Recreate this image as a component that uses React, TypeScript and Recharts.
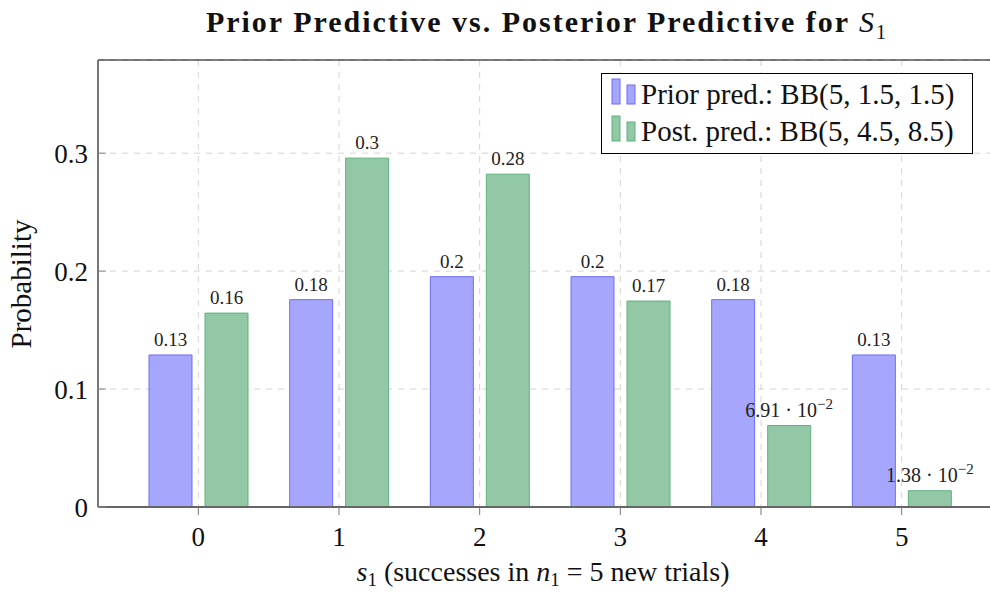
import React from "react";
import { Bar, BarChart, CartesianGrid, LabelList, XAxis, YAxis } from "recharts";

const FONT = '"Liberation Serif", "Times New Roman", serif';

// s1 = 0..5 successes
const successes = ["0", "1", "2", "3", "4", "5"];
const priorPred = [0.1289, 0.1758, 0.1953, 0.1953, 0.1758, 0.1289];
const postPred = [0.1644, 0.2958, 0.2822, 0.1746, 0.0691, 0.0138];
const yTicks = [0, 0.1, 0.2, 0.3];
const priorName = "Prior pred.: BB(5, 1.5, 1.5)";
const postName = "Post. pred.: BB(5, 4.5, 8.5)";

const BLUE_FILL = "#a6a6fd";
const BLUE_STROKE = "#6c6cf6";
const GREEN_FILL = "#92c8a6";
const GREEN_STROKE = "#5db27e";

const data = successes.map((s, i) => ({ s, prior: priorPred[i], post: postPred[i] }));

const BarValue = (props: any) => {
  const { x, y, width, value } = props;
  const cx = Number(x) + Number(width) / 2;
  const by = Number(y) - 9;
  if (value >= 0.1) {
    return (
      <text x={cx} y={by} textAnchor="middle" fontSize={19} fontFamily={FONT} fill="#222">
        {String(Math.round(value * 100) / 100)}
      </text>
    );
  }
  const exp = Math.floor(Math.log10(value));
  const mant = (value / Math.pow(10, exp)).toFixed(2);
  return (
    <text x={cx} y={by} textAnchor="middle" fontSize={20} fontFamily={FONT} fill="#222">
      {mant} · 10
      <tspan dy={-8} fontSize={15}>
        {"−" + Math.abs(exp)}
      </tspan>
    </text>
  );
};

const XLabel = () => (
  <text x={543} y={581} textAnchor="middle" fontSize={28} fontFamily={FONT} fill="#111">
    <tspan fontStyle="italic">s</tspan>
    <tspan fontSize={19} dy={5}>1</tspan>
    <tspan dy={-5}> (successes in </tspan>
    <tspan fontStyle="italic">n</tspan>
    <tspan fontSize={19} dy={5}>1</tspan>
    <tspan dy={-5}> = 5 new trials)</tspan>
  </text>
);

const YLabel = () => (
  <text
    x={31}
    y={284}
    transform="rotate(-90, 31, 284)"
    textAnchor="middle"
    fontSize={29}
    fontFamily={FONT}
    fill="#111"
  >
    Probability
  </text>
);

const LegendIcon = ({ fill, stroke }: { fill: string; stroke: string }) => (
  <svg width={26} height={27} style={{ position: "absolute", left: 9, top: 0 }}>
    <rect x={1} y={1} width={8} height={25} fill={fill} stroke={stroke} />
    <rect x={16} y={7} width={8} height={19} fill={fill} stroke={stroke} />
  </svg>
);

export default function App() {
  return (
    <div
      style={{
        position: "absolute",
        left: 0,
        top: 0,
        width: 990,
        height: 597,
        overflow: "hidden",
        background: "#fff",
        fontFamily: FONT,
        color: "#111",
      }}
    >
      <div
        style={{
          position: "absolute",
          left: 98,
          width: 898,
          top: 4,
          textAlign: "center",
          fontWeight: "bold",
          fontSize: 30,
          letterSpacing: 2,
          lineHeight: "36px",
          whiteSpace: "nowrap",
        }}
      >
        Prior Predictive vs. Posterior Predictive for{" "}
        <i style={{ fontWeight: "normal" }}>S</i>
        <sub style={{ fontWeight: "normal", fontSize: 20 }}>1</sub>
      </div>

      <div style={{ position: "absolute", left: 0, top: 0 }}>
        <BarChart
          width={1010}
          height={597}
          data={data}
          margin={{ top: 50, right: 6, bottom: 0, left: 0 }}
          barGap={13}
          barSize={43}
        >
          <CartesianGrid stroke="#d4d4d4" strokeDasharray="6 6" />
          <XAxis
            xAxisId="top"
            orientation="top"
            dataKey="s"
            height={10}
            padding={{ left: 30, right: 32 }}
            tick={false}
            tickSize={9}
            axisLine={{ stroke: "#000", strokeWidth: 1 }}
            tickLine={{ stroke: "#888" }}
          />
          <XAxis
            dataKey="s"
            height={90}
            padding={{ left: 30, right: 32 }}
            tickSize={8}
            tickMargin={12}
            tick={{ fontSize: 27, fill: "#111", fontFamily: FONT }}
            axisLine={{ stroke: "#666", strokeWidth: 2 }}
            tickLine={{ stroke: "#777" }}
            label={<XLabel />}
          />
          <YAxis
            width={98}
            domain={[0, 0.379]}
            ticks={yTicks}
            allowDataOverflow
            tickSize={-8}
            tickMargin={18}
            tick={{ fontSize: 27, fill: "#111", fontFamily: FONT }}
            axisLine={{ stroke: "#777", strokeWidth: 2 }}
            tickLine={{ stroke: "#888" }}
            label={<YLabel />}
          />
          <Bar dataKey="prior" name={priorName} fill={BLUE_FILL} stroke={BLUE_STROKE} isAnimationActive={false}>
            <LabelList dataKey="prior" content={<BarValue />} />
          </Bar>
          <Bar dataKey="post" name={postName} fill={GREEN_FILL} stroke={GREEN_STROKE} isAnimationActive={false}>
            <LabelList dataKey="post" content={<BarValue />} />
          </Bar>
        </BarChart>
      </div>

      <div
        style={{
          position: "absolute",
          left: 601,
          top: 73,
          width: 372,
          height: 81,
          border: "1px solid #000",
          background: "#fff",
          boxSizing: "border-box",
        }}
      >
        <div style={{ position: "absolute", left: 0, top: 4, width: 370, height: 34 }}>
          <LegendIcon fill={BLUE_FILL} stroke={BLUE_STROKE} />
          <div style={{ position: "absolute", left: 39, top: 0, lineHeight: "32px", fontSize: 29, whiteSpace: "nowrap" }}>
            {priorName}
          </div>
        </div>
        <div style={{ position: "absolute", left: 0, top: 41, width: 370, height: 34 }}>
          <LegendIcon fill={GREEN_FILL} stroke={GREEN_STROKE} />
          <div style={{ position: "absolute", left: 39, top: 0, lineHeight: "32px", fontSize: 29, whiteSpace: "nowrap" }}>
            {postName}
          </div>
        </div>
      </div>
    </div>
  );
}
